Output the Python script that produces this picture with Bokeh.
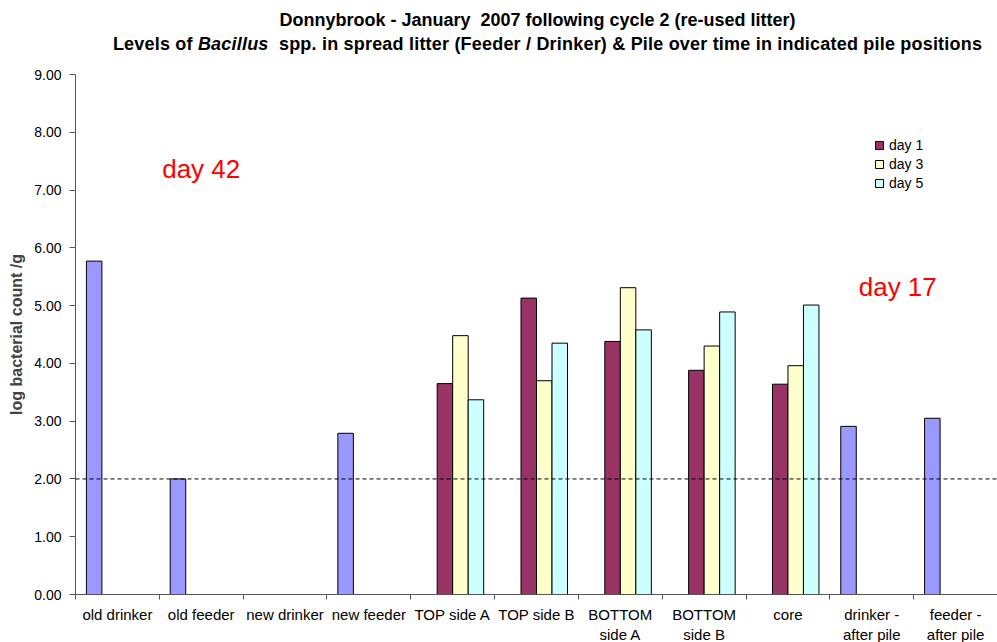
from bokeh.plotting import figure
from bokeh.models import (Range1d, LinearAxis, FixedTicker, NumeralTickFormatter, Span, Label,
                          Legend, LegendItem, Div, ColumnDataSource)
from bokeh.layouts import column
from bokeh.embed import file_html
from bokeh.resources import INLINE

# Sampling positions along the x axis
categories = ["old drinker", "old feeder", "new drinker", "new feeder", "TOP side A",
              "TOP side B", "BOTTOM side A", "BOTTOM side B", "core",
              "drinker - after pile", "feeder - after pile"]
tick_labels = ["old drinker", "old feeder", "new drinker", "new feeder", "TOP side A",
               "TOP side B", "BOTTOM\nside A", "BOTTOM\nside B", "core",
               "drinker -\nafter pile", "feeder -\nafter pile"]

# Spread litter (feeder / drinker) counts, log CFU/g
spread_positions = ["old drinker", "old feeder", "new feeder",
                    "drinker - after pile", "feeder - after pile"]
spread_values = [5.77, 2.00, 2.79, 2.91, 3.05]

# Pile counts by day, log CFU/g
pile_positions = ["TOP side A", "TOP side B", "BOTTOM side A", "BOTTOM side B", "core"]
day1 = [3.65, 5.13, 4.38, 3.88, 3.64]
day3 = [4.48, 3.70, 5.31, 4.30, 3.96]
day5 = [3.37, 4.35, 4.58, 4.89, 5.01]

detection_limit = 2.0
y_ticks = [0, 1, 2, 3, 4, 5, 6, 7, 8, 9]

FONT = "Liberation Sans"
AXIS_GREY = "#555555"
n_cat = len(categories)

p = figure(x_range=Range1d(0, n_cat), y_range=Range1d(0, 9),
           frame_width=922, frame_height=520,
           min_border_left=75, min_border_right=0, min_border_top=14, min_border_bottom=44,
           output_backend="svg", toolbar_location=None, x_axis_location=None)
p.outline_line_color = None
p.grid.visible = False

# y axis
yax = p.yaxis[0]
yax.ticker = FixedTicker(ticks=y_ticks)
yax.formatter = NumeralTickFormatter(format="0.00")
yax.major_label_text_font = FONT
yax.major_label_text_font_size = "14px"
yax.major_label_text_color = "black"
yax.major_label_standoff = 8
yax.major_tick_out = 6
yax.major_tick_in = 0
yax.minor_tick_line_color = None
yax.axis_line_color = AXIS_GREY
yax.major_tick_line_color = AXIS_GREY
yax.axis_label = "log bacterial count /g"
yax.axis_label_text_font = FONT
yax.axis_label_text_font_size = "16px"
yax.axis_label_text_font_style = "bold"
yax.axis_label_standoff = 6

# x axis: tick marks between categories, labels centred on categories
bounds_axis = LinearAxis(ticker=FixedTicker(ticks=list(range(n_cat + 1))),
                         major_label_text_font_size="1px", major_label_text_alpha=0,
                         major_label_standoff=0, major_tick_out=5, major_tick_in=0,
                         minor_tick_line_color=None, axis_line_color=AXIS_GREY,
                         major_tick_line_color=AXIS_GREY)
p.add_layout(bounds_axis, "below")
centres = [i + 0.5 for i in range(n_cat)]
label_axis = LinearAxis(ticker=FixedTicker(ticks=centres),
                        major_label_overrides={c: t for c, t in zip(centres, tick_labels)},
                        major_label_text_font=FONT, major_label_text_font_size="15px",
                        major_label_text_color="black", major_label_standoff=0,
                        major_tick_line_color=None, minor_tick_line_color=None,
                        axis_line_color=None)
p.add_layout(label_axis, "below")

# Bars: four clustered slots per category
bar_w = 0.185
offsets = [-1.5 * bar_w, -0.5 * bar_w, 0.5 * bar_w, 1.5 * bar_w]


def slot_x(names, offset):
    return [categories.index(n) + 0.5 + offset for n in names]


spread_src = ColumnDataSource(dict(x=slot_x(spread_positions, offsets[0]), top=spread_values))
p.vbar(x="x", top="top", width=bar_w, source=spread_src,
       fill_color="#9999FF", line_color="black", line_width=1)

pile_src = ColumnDataSource(dict(x1=slot_x(pile_positions, offsets[1]),
                                 x3=slot_x(pile_positions, offsets[2]),
                                 x5=slot_x(pile_positions, offsets[3]),
                                 day1=day1, day3=day3, day5=day5))
r1 = p.vbar(x="x1", top="day1", width=bar_w, source=pile_src,
            fill_color="#993366", line_color="black", line_width=1)
r3 = p.vbar(x="x3", top="day3", width=bar_w, source=pile_src,
            fill_color="#FFFFCC", line_color="black", line_width=1)
r5 = p.vbar(x="x5", top="day5", width=bar_w, source=pile_src,
            fill_color="#CCFFFF", line_color="black", line_width=1)

# Detection limit
p.add_layout(Span(location=detection_limit, dimension="width", line_color="black",
                  line_width=1, line_dash="4 3"))

# Day annotations
p.add_layout(Label(x=1.5, y=7.37, text="day 42", text_color="red",
                   text_font=FONT, text_font_size="26px", text_align="center",
                   text_baseline="middle"))
p.add_layout(Label(x=9.81, y=5.33, text="day 17", text_color="red",
                   text_font=FONT, text_font_size="26px", text_align="center",
                   text_baseline="middle"))

legend = Legend(items=[LegendItem(label="day 1", renderers=[r1]),
                       LegendItem(label="day 3", renderers=[r3]),
                       LegendItem(label="day 5", renderers=[r5])],
                location=(799, 402), glyph_width=10, glyph_height=10, label_height=19,
                spacing=0, padding=6, margin=0, label_standoff=5,
                label_text_font=FONT, label_text_font_size="14px",
                label_text_color="black",
                background_fill_alpha=0, border_line_color=None)
p.add_layout(legend, "center")

title_html = (
    '<div style="display:block;box-sizing:border-box;width:997px;padding:8px 0 0 78px;'
    'font-family:\'Liberation Sans\',Arial,sans-serif;font-weight:bold;'
    'font-size:18px;line-height:24px;text-align:center;color:black;white-space:nowrap;">'
    'Donnybrook - January&nbsp; 2007 following cycle 2 (re-used litter)<br>'
    '<span style="position:relative;left:10px;letter-spacing:0.2px;">'
    'Levels of <i>Bacillus</i>&nbsp; spp. in spread litter (Feeder / Drinker) &amp; Pile over '
    'time in indicated pile positions</span></div>'
)
title = Div(text=title_html, width=997, height=60, margin=0)

layout = column(title, p, spacing=0)

with open("out.html", "w") as f:
    f.write(file_html(layout, INLINE))
